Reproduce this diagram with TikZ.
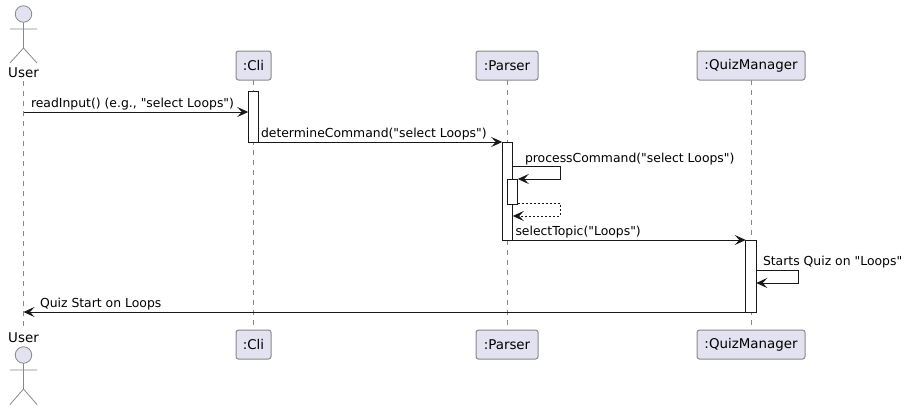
\documentclass[tikz,border=0pt]{standalone}
\usepackage{fontspec}
\newfontfamily\diafont{DejaVu Sans}
\usetikzlibrary{arrows.meta,calc}
\definecolor{pbox}{HTML}{E2E2F0}
\definecolor{pline}{HTML}{181818}
\definecolor{pgrey}{HTML}{888888}
\tikzset{
  x=1pt,y=-1pt,
  every node/.style={font=\diafont\fontsize{12.4}{15}\selectfont,text=black,inner sep=0pt,outer sep=0pt},
  part/.style={draw=pgrey,fill=pbox,rounded corners=2.5pt,line width=1pt,minimum height=29pt,font=\diafont\fontsize{13.4}{16}\selectfont},
  act/.style={draw=pline,fill=white,line width=1pt,minimum width=10.5pt},
  life/.style={draw=pgrey,line width=.8pt,dash pattern=on 5pt off 5pt},
  msg/.style={draw=pline,line width=1pt,-{Stealth[length=11pt,width=10pt,inset=4.5pt]}},
  ret/.style={msg,dash pattern=on 2pt off 2pt},
  limb/.style={draw=pgrey,line width=.8pt},
  lab/.style={anchor=base west},
}
\begin{document}
\begin{tikzpicture}
\useasboundingbox (0,0) rectangle (910,410);
% participants
\node[part,minimum width=35pt] (cliT) at (253.5,65.5) {:Cli};
\node[part,minimum width=35pt] (cliB) at (253.5,344.5) {:Cli};
\node[part,minimum width=62pt] (parT) at (507,65.5) {:Parser};
\node[part,minimum width=62pt] (parB) at (507,344.5) {:Parser};
\node[part,minimum width=108pt] (quiT) at (751,65.5) {:QuizManager};
\node[part,minimum width=108pt] (quiB) at (751,344.5) {:QuizManager};
% actors
\node[font=\diafont\fontsize{13.4}{16}\selectfont] (userT) at (23.5,73) {User};
\node[font=\diafont\fontsize{13.4}{16}\selectfont] (userB) at (23.5,338) {User};
\node[circle,draw=pgrey,fill=pbox,line width=.8pt,minimum size=16.5pt] (headT) at (23.5,14) {};
\node[circle,draw=pgrey,fill=pbox,line width=.8pt,minimum size=16.5pt] (headB) at (23.5,355) {};
\coordinate (hipT) at (23.5,48); \coordinate (hipB) at (23.5,389);
\coordinate (armTl) at (10,29); \coordinate (armTr) at (37,29);
\coordinate (armBl) at (10,370); \coordinate (armBr) at (37,370);
\coordinate (legTl) at (10,63); \coordinate (legTr) at (37,63);
\coordinate (legBl) at (10,404.5); \coordinate (legBr) at (37,404.5);
\draw[limb] (headT.south) -- (hipT) (armTl) -- (armTr) (legTl) -- (hipT) -- (legTr);
\draw[limb] (headB.south) -- (hipB) (armBl) -- (armBr) (legBl) -- (hipB) -- (legBr);
% lifelines
\coordinate (uTop) at (23.5,81); \coordinate (uBot) at (23.5,330);
\draw[life] (uTop) -- (uBot);
\draw[life] (cliT.south) -- (cliB.north);
\draw[life] (parT.south) -- (parB.north);
\draw[life] (quiT.south) -- (quiB.north);
% activations
\node[act,minimum height=51pt] (aCli) at (253.5,116.5) {};
\node[act,minimum height=98pt] (aPar) at (507.5,191) {};
\node[act,minimum height=25pt] (aNest) at (512.5,191.5) {};
\node[act,minimum height=72pt] (aQui) at (751,276) {};
% messages
\draw[msg] (uTop |- 0,112) coordinate (m1) -- (aCli.west |- m1);
\node[lab] at (31,107) {readInput() (e.g., "select Loops")};
\draw[msg] (aCli.south east) -- (aPar.north west);
\node[lab] at (261,137) {determineCommand("select Loops")};
\coordinate (p1) at (560,166.5);
\coordinate (p2) at (560,179);
\draw[msg] (aPar.east |- p1) -- (p1) -- (p2) -- (aNest.north east);
\node[lab] at (525,162) {processCommand("select Loops")};
\coordinate (r1) at (560,203.5);
\coordinate (r2) at (560,216);
\draw[ret] (aNest.east |- r1) -- (r1) -- (r2) -- (aPar.east |- r2);
\draw[msg] (aPar.south east) -- (aQui.north west);
\node[lab] at (515.5,235) {selectTopic("Loops")};
\coordinate (s1) at (798.5,270.5);
\coordinate (s2) at (798.5,283);
\draw[msg] (aQui.east |- s1) -- (s1) -- (s2) -- (aQui.east |- s2);
\node[lab] at (763,265) {Starts Quiz on "Loops"};
\draw[msg] (aQui.south west) -- (uTop |- aQui.south);
\node[lab] at (40,307.5) {Quiz Start on Loops};
\end{tikzpicture}
\end{document}
